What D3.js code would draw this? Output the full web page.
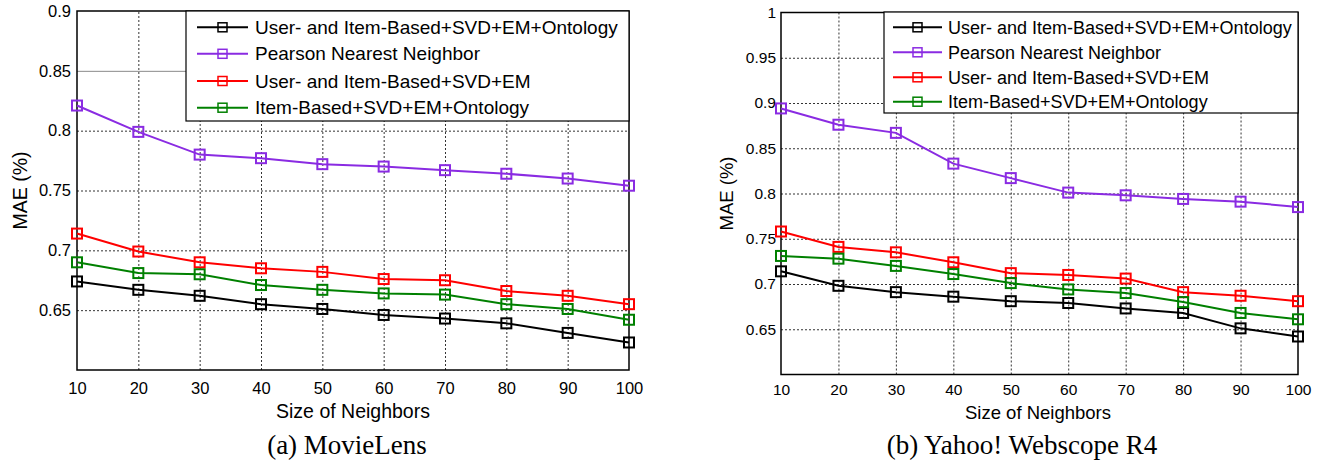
<!DOCTYPE html>
<html><head><meta charset="utf-8">
<script src="https://cdn.jsdelivr.net/npm/d3@7"></script>
<style>body{margin:0;background:#fff} svg{display:block}</style>
</head><body>
<svg id="chart" width="1325" height="465"></svg>
<script>
// ---------------- data ----------------
const neighbors = [10, 20, 30, 40, 50, 60, 70, 80, 90, 100];
const seriesNames = [
  "User- and Item-Based+SVD+EM+Ontology",
  "Pearson Nearest Neighbor",
  "User- and Item-Based+SVD+EM",
  "Item-Based+SVD+EM+Ontology"
];
const seriesColors = ["#000000", "#8a2be2", "#ff0000", "#008000"];

// (a) MovieLens
const movieLensUserItemOntology = [0.674, 0.667, 0.662, 0.655, 0.651, 0.646, 0.643, 0.639, 0.631, 0.623];
const movieLensPearson          = [0.821, 0.799, 0.780, 0.777, 0.772, 0.770, 0.767, 0.764, 0.760, 0.754];
const movieLensUserItem         = [0.714, 0.699, 0.690, 0.685, 0.682, 0.676, 0.675, 0.666, 0.662, 0.655];
const movieLensItemOntology     = [0.690, 0.681, 0.680, 0.671, 0.667, 0.664, 0.663, 0.655, 0.651, 0.642];

// (b) Yahoo! Webscope R4
const yahooUserItemOntology = [0.714, 0.698, 0.691, 0.686, 0.681, 0.679, 0.673, 0.668, 0.651, 0.642];
const yahooPearson          = [0.894, 0.876, 0.867, 0.833, 0.817, 0.801, 0.798, 0.794, 0.791, 0.785];
const yahooUserItem         = [0.758, 0.741, 0.735, 0.724, 0.712, 0.710, 0.706, 0.691, 0.687, 0.681];
const yahooItemOntology     = [0.731, 0.728, 0.720, 0.711, 0.701, 0.694, 0.690, 0.680, 0.668, 0.661];

const xTickValues = [10, 20, 30, 40, 50, 60, 70, 80, 90, 100];
const movieLensYTicks = [0.65, 0.7, 0.75, 0.8, 0.85, 0.9];
const yahooYTicks = [0.65, 0.7, 0.75, 0.8, 0.85, 0.9, 0.95, 1];
const xTitle = "Size of Neighbors";
const yTitle = "MAE (%)";

// ---------------- drawing ----------------
const svg = d3.select("#chart");
const SANS = "'Liberation Sans', Arial, Helvetica, sans-serif";
const SERIF = "'Liberation Serif', 'Times New Roman', serif";

function drawPanel(p) {
  const g = svg.append("g");
  const x = d3.scaleLinear().domain([10, 100]).range([p.left, p.right]);
  const y = d3.scaleLinear().domain(p.yDomain).range([p.bottom, p.top]);
  const w = p.right - p.left, h = p.bottom - p.top;

  // horizontal grid
  const gy = g.append("g").attr("transform", `translate(${p.left},0)`)
    .call(d3.axisLeft(y).tickValues(p.yTicks.filter(v => v < p.yDomain[1])).tickSize(-w).tickFormat(""));
  gy.select(".domain").remove();
  gy.selectAll(".tick line")
    .attr("stroke", d => d === p.solidGrid ? "#8a8a8a" : "#333")
    .attr("stroke-width", 1)
    .attr("stroke-dasharray", d => d === p.solidGrid ? null : "2,2");

  // vertical grid
  const gx = g.append("g").attr("transform", `translate(0,${p.bottom})`)
    .call(d3.axisBottom(x).tickValues(xTickValues.slice(1, -1)).tickSize(-h).tickFormat(""));
  gx.select(".domain").remove();
  gx.selectAll(".tick line").attr("stroke", "#333").attr("stroke-width", 1).attr("stroke-dasharray", "2,2");

  // frame
  g.append("rect").attr("x", p.left).attr("y", p.top).attr("width", w).attr("height", h)
    .attr("fill", "none").attr("stroke", "#000").attr("stroke-width", 1.5);

  // tick labels via axes
  const ay = g.append("g").attr("transform", `translate(${p.left},0)`)
    .call(d3.axisLeft(y).tickValues(p.yTicks).tickSize(0).tickPadding(p.yPad).tickFormat(d => String(d)));
  ay.select(".domain").remove();
  ay.selectAll("text").attr("font-family", SANS).attr("font-size", p.tickFont).attr("fill", "#000");

  const ax = g.append("g").attr("transform", `translate(0,${p.bottom})`)
    .call(d3.axisBottom(x).tickValues(xTickValues).tickSize(0).tickPadding(p.xPad).tickFormat(d => String(d)));
  ax.select(".domain").remove();
  ax.selectAll("text").attr("font-family", SANS).attr("font-size", p.tickFont).attr("fill", "#000");

  // series
  const line = d3.line().x((d, i) => x(neighbors[i])).y(d => y(d));
  p.series.forEach((vals, si) => {
    g.append("path").datum(vals).attr("d", line).attr("fill", "none")
      .attr("stroke", seriesColors[si]).attr("stroke-width", 2);
    g.selectAll(null).data(vals).enter().append("rect")
      .attr("x", (d, i) => x(neighbors[i]) - p.marker / 2)
      .attr("y", d => y(d) - p.marker / 2)
      .attr("width", p.marker).attr("height", p.marker)
      .attr("fill", "none").attr("stroke", seriesColors[si]).attr("stroke-width", 2);
  });

  // legend
  const L = p.legend;
  const lg = g.append("g");
  lg.append("rect").attr("x", L.x).attr("y", L.y).attr("width", L.w).attr("height", L.h)
    .attr("fill", "#fff").attr("stroke", "#000").attr("stroke-width", 1.2);
  seriesNames.forEach((name, i) => {
    const cy = L.rows[i];
    lg.append("line").attr("x1", L.lx0).attr("x2", L.lx1).attr("y1", cy).attr("y2", cy)
      .attr("stroke", seriesColors[i]).attr("stroke-width", 2);
    lg.append("rect").attr("x", (L.lx0 + L.lx1) / 2 - 4.5).attr("y", cy - 4.5)
      .attr("width", 9).attr("height", 9).attr("fill", "none")
      .attr("stroke", seriesColors[i]).attr("stroke-width", 1.5);
    lg.append("text").attr("x", L.tx).attr("y", cy).attr("dy", "0.35em")
      .attr("font-family", SANS).attr("font-size", L.font).attr("fill", "#000").text(name);
  });

  // titles
  g.append("text").attr("x", p.xTitleX).attr("y", p.xTitleY).attr("text-anchor", "middle")
    .attr("font-family", SANS).attr("font-size", p.titleFont).text(xTitle);
  g.append("text").attr("transform", `translate(${p.yTitleX},${(p.top + p.bottom) / 2}) rotate(-90)`)
    .attr("text-anchor", "middle").attr("font-family", SANS).attr("font-size", p.titleFont).text(yTitle);
  g.append("text").attr("x", p.capX).attr("y", p.capY).attr("text-anchor", "middle")
    .attr("font-family", SERIF).attr("font-size", p.capFont).text(p.caption);
}

drawPanel({
  left: 77, right: 629, top: 11, bottom: 370, yDomain: [0.6, 0.9],
  yTicks: movieLensYTicks, solidGrid: 0.85,
  series: [movieLensUserItemOntology, movieLensPearson, movieLensUserItem, movieLensItemOntology],
  marker: 10, tickFont: 16.5, yPad: 6, xPad: 12, titleFont: 19.5,
  legend: { x: 186, y: 11, w: 443, h: 110, rows: [27.3, 53.8, 81, 107.7], lx0: 197, lx1: 248, tx: 255, font: 19 },
  xTitleX: 353, xTitleY: 418, yTitleX: 27,
  caption: "(a) MovieLens", capX: 347, capY: 454, capFont: 27
});

drawPanel({
  left: 781, right: 1298, top: 12.5, bottom: 374.5, yDomain: [0.6, 1],
  yTicks: yahooYTicks, solidGrid: null,
  series: [yahooUserItemOntology, yahooPearson, yahooUserItem, yahooItemOntology],
  marker: 10, tickFont: 15.5, yPad: 5, xPad: 9, titleFont: 18.5,
  legend: { x: 884, y: 12, w: 414, h: 101, rows: [27.3, 52.3, 77.3, 101.7], lx0: 893, lx1: 942, tx: 948, font: 18 },
  xTitleX: 1038, xTitleY: 419, yTitleX: 733,
  caption: "(b) Yahoo! Webscope R4", capX: 1022, capY: 454, capFont: 27
});
</script>
</body></html>
